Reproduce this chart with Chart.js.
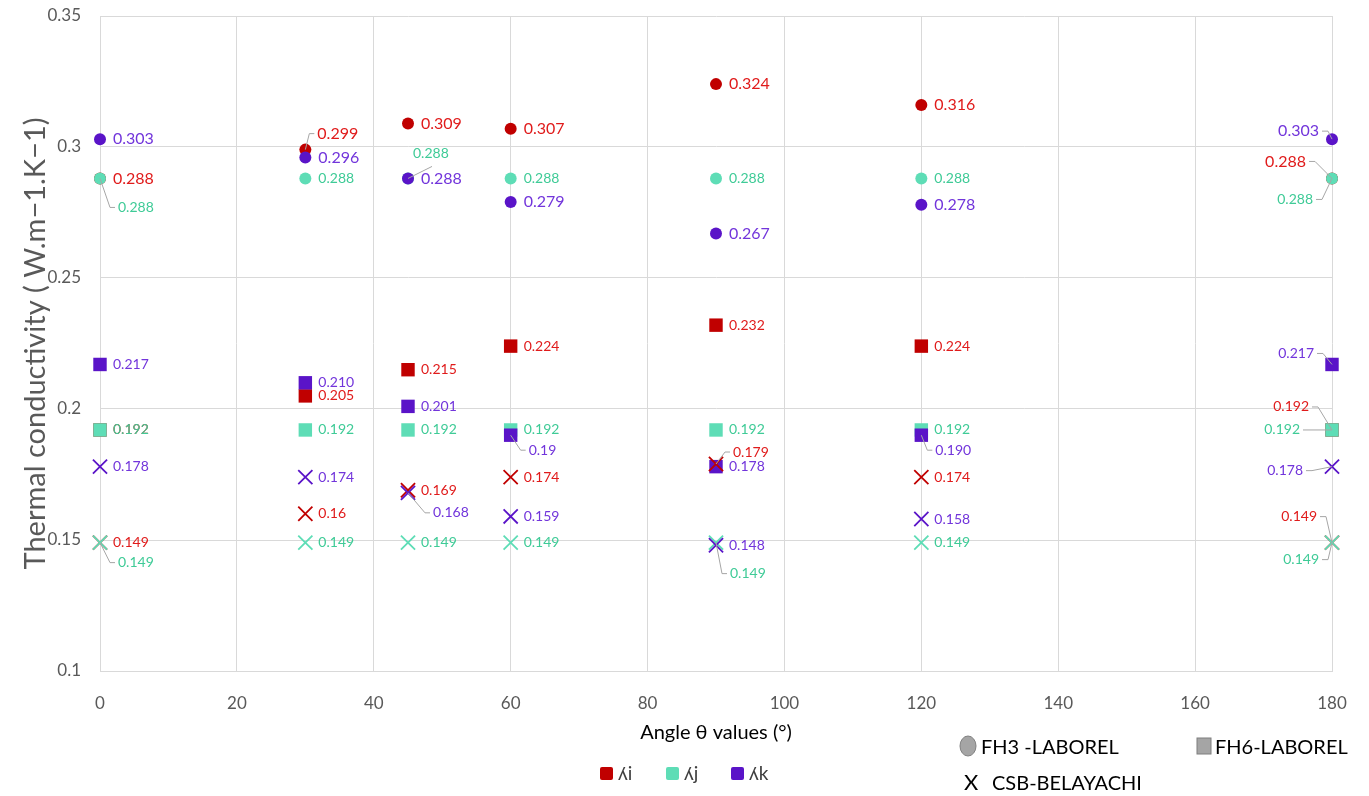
<!DOCTYPE html>
<html>
<head>
<meta charset="utf-8">
<script src="https://cdn.jsdelivr.net/npm/chart.js@4"></script>
<style>
  body{margin:0;background:#fff;}
  #wrap{width:1369px;height:796px;}
</style>
</head>
<body>
<div id="wrap"><canvas id="chart" width="1369" height="796"></canvas></div>
<script>
// ================= Data =================
const angles=[0,30,45,60,90,120,180];
const xTicks=[0,20,40,60,80,100,120,140,160,180];
const yTicks=[0.1,0.15,0.2,0.25,0.3,0.35];

// FH3 - LABOREL (circles)
const fh3_i=[0.288,0.299,0.309,0.307,0.324,0.316,0.288];
const fh3_j=[0.288,0.288,0.288,0.288,0.288,0.288,0.288];
const fh3_k=[0.303,0.296,0.288,0.279,0.267,0.278,0.303];
// FH6 - LABOREL (squares)
const fh6_i=[0.192,0.205,0.215,0.224,0.232,0.224,0.192];
const fh6_j=[0.192,0.192,0.192,0.192,0.192,0.192,0.192];
const fh6_k=[0.217,0.210,0.201,0.19,0.178,0.190,0.217];
const fh6_kText=['0.217','0.210','0.201','0.19','0.178','0.190','0.217'];
// CSB - BELAYACHI (crosses)
const csb_i=[0.149,0.16,0.169,0.174,0.179,0.174,0.149];
const csb_j=[0.149,0.149,0.149,0.149,0.149,0.149,0.149];
const csb_k=[0.178,0.174,0.168,0.159,0.148,0.158,0.178];

const legendNames=['ʎi','ʎj','ʎk'];

// ================= Styles =================
const FONT='Lato';
const colors={i:'#C00000',j:'#5EDDB6',k:'#5A14C8'};
const textColors={i:'#E01B1B',j:'#3FCB97',k:'#7235DB'};
const shapes={C:{pointStyle:'circle',radius:6},S:{pointStyle:'rect',radius:9.5},X:{pointStyle:'crossRot',radius:10}};

// label placement: default to the right of the point; a few are moved with a leader line
const labelPos={
  'jC-0':{dx:18,dy:29,leader:true},
  'iC-1':{dx:12,dy:-16,leader:true},
  'jC-2':{dx:5,dy:-25,leader:true,lx:24,ly:-12},
  'kX-2':{dx:25,dy:20,leader:true},
  'kS-3':{dx:18,dy:15,leader:true},
  'iX-4':{dx:17,dy:-12,leader:true},
  'jX-4':{dx:14,dy:31,leader:true},
  'jX-0':{dx:18,dy:20,leader:true},
  'kS-5':{dx:14,dy:15,leader:true},
  'kC-6':{dx:-13,dy:-8,right:true,leader:true},
  'iC-6':{dx:-26,dy:-17,right:true,leader:true},
  'jC-6':{dx:-19,dy:21,right:true,leader:true},
  'kS-6':{dx:-18,dy:-11,right:true,leader:true},
  'iS-6':{dx:-23,dy:-23,right:true,leader:true},
  'jS-6':{dx:-32,dy:0,right:true,leader:true},
  'kX-6':{dx:-29,dy:4,right:true,leader:true},
  'iX-6':{dx:-15,dy:-26,right:true,leader:true},
  'jX-6':{dx:-13,dy:17,right:true,leader:true}
};

function makeSet(key,series,shape,values,texts){
  const sh=shapes[shape];
  return {
    key:key+shape,
    series:series,
    data:values.map((v,i)=>({x:angles[i],y:v})),
    labelTexts:texts||values.map(v=>String(v)),
    labelSize:(shape==='C'&&series!=='j')?16:14,
    pointStyle:sh.pointStyle,
    pointRadius:sh.radius,
    pointHoverRadius:sh.radius,
    backgroundColor:colors[series],
    borderColor:colors[series],
    borderWidth:shape==='X'?1.8:0,
    showLine:false,
    clip:false
  };
}

const datasets=[
  makeSet('i','i','C',fh3_i),makeSet('j','j','C',fh3_j),makeSet('k','k','C',fh3_k),
  makeSet('i','i','S',fh6_i),makeSet('j','j','S',fh6_j),makeSet('k','k','S',fh6_k,fh6_kText),
  makeSet('i','i','X',csb_i),makeSet('j','j','X',csb_j),makeSet('k','k','X',csb_k)
];
// first dataset in the list is drawn first (at the bottom)
datasets.forEach((d,i)=>d.order=datasets.length-i);

// ================= Plugins =================
const pointLabels={
  id:'pointLabels',
  afterDatasetsDraw(chart){
    const ctx=chart.ctx;
    ctx.save();
    ctx.textBaseline='middle';
    chart.data.datasets.forEach((ds,di)=>{
      const meta=chart.getDatasetMeta(di);
      meta.data.forEach((pt,i)=>{
        const p=labelPos[ds.key+'-'+i]||{dx:13,dy:0};
        const tx=pt.x+p.dx, ty=pt.y+p.dy;
        ctx.font=ds.labelSize+'px '+FONT;
        if(p.leader){
          ctx.strokeStyle='#A6A6A6';ctx.lineWidth=1;
          ctx.beginPath();
          ctx.moveTo(pt.x,pt.y);
          if(p.lx!==undefined){
            ctx.lineTo(pt.x+p.lx,pt.y+p.ly);
          }else if(p.right){
            const ex=tx+3, ey=ty;
            ctx.lineTo(ex+6*Math.sign(pt.x-ex),ey);
            ctx.lineTo(ex,ey);
          }else{
            const ex=tx-3, ey=ty;
            ctx.lineTo(ex-5,ey);
            ctx.lineTo(ex,ey);
          }
          ctx.stroke();
        }
        ctx.fillStyle=textColors[ds.series];
        ctx.textAlign=p.right?'right':'left';
        ctx.fillText(ds.labelTexts[i],tx,ty);
      });
    });
    ctx.restore();
  }
};

const customLegend={
  id:'customLegend',
  afterDraw(chart){
    const ctx=chart.ctx;
    ctx.save();
    ctx.textBaseline='middle';
    // series colours
    const keys=['i','j','k'];
    const xs=[600,666,731];
    keys.forEach((k,n)=>{
      ctx.fillStyle=colors[k];
      ctx.beginPath();
      ctx.roundRect(xs[n],767,13,13,2);
      ctx.fill();
      ctx.fillStyle='#404040';
      ctx.font='19px '+FONT;
      ctx.textAlign='left';
      ctx.fillText(legendNames[n],xs[n]+18,774);
    });
    // marker shapes
    ctx.fillStyle='#A5A5A5';ctx.strokeStyle='#7F7F7F';ctx.lineWidth=1;
    ctx.beginPath();ctx.ellipse(968,746,8,10,0,0,Math.PI*2);ctx.fill();ctx.stroke();
    ctx.fillRect(1197,738,14,16);ctx.strokeRect(1197,738,14,16);
    ctx.fillStyle='#000';
    ctx.font='20px '+FONT;
    ctx.fillText('FH3 -LABOREL',981,748);
    ctx.fillText('FH6-LABOREL',1215,748);
    ctx.font='22px '+FONT;
    ctx.fillText('X',964,783);
    ctx.font='20px '+FONT;
    ctx.fillText('CSB-BELAYACHI',992,784);
    ctx.restore();
  }
};

// ================= Chart =================
new Chart(document.getElementById('chart').getContext('2d'),{
  type:'scatter',
  data:{datasets:datasets},
  options:{
    responsive:false,
    animation:false,
    layout:{padding:{top:16,right:37,bottom:51,left:0}},
    plugins:{legend:{display:false},tooltip:{enabled:false}},
    scales:{
      x:{
        type:'linear',min:0,max:180,
        afterBuildTicks:s=>{s.ticks=xTicks.map(v=>({value:v}));},
        afterFit:s=>{s.height=74;s.paddingLeft=0;s.paddingRight=0;},
        grid:{color:'#D9D9D9',drawTicks:false},
        border:{color:'#D9D9D9'},
        ticks:{color:'#595959',font:{family:FONT,size:17},padding:22},
        title:{display:true,text:'Angle θ values (°)',color:'#000',font:{family:FONT,size:20},padding:{top:10,bottom:0}}
      },
      y:{
        type:'linear',min:0.1,max:0.35,
        afterBuildTicks:s=>{s.ticks=yTicks.map(v=>({value:v}));},
        afterFit:s=>{s.width=100;s.paddingTop=0;s.paddingBottom=0;},
        grid:{color:'#D9D9D9',drawTicks:false},
        border:{color:'#D9D9D9'},
        ticks:{color:'#595959',font:{family:FONT,size:17},padding:19,callback:v=>String(+v.toFixed(2))},
        title:{display:true,text:'Thermal conductivity ( W.m−1.K−1)',color:'#595959',font:{family:FONT,size:29},padding:{top:18,bottom:0}}
      }
    }
  },
  plugins:[pointLabels,customLegend]
});
</script>
</body>
</html>
